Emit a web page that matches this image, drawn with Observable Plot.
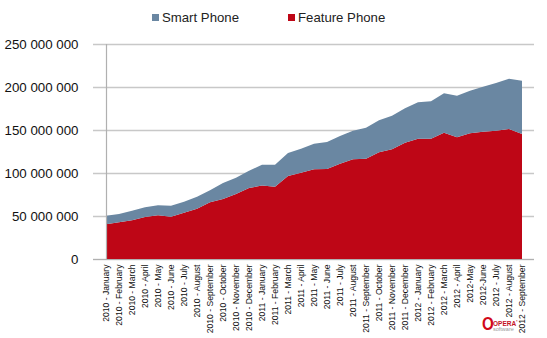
<!DOCTYPE html>
<html>
<head>
<meta charset="utf-8">
<script src="https://cdn.jsdelivr.net/npm/d3@7"></script>
<script src="https://cdn.jsdelivr.net/npm/@observablehq/plot@0.6"></script>
<style>
  html, body { margin: 0; padding: 0; background: #fff; }
  body { width: 547px; height: 338px; position: relative; overflow: hidden; font-family: "Liberation Sans", Arial, sans-serif; }
  #legend { position: absolute; left: 0; top: 10px; width: 547px; height: 18px; font-size: 13.2px; color: #222; }
  .item { position: absolute; top: 0; white-space: nowrap; }
  .sw { display: inline-block; width: 7px; height: 7px; margin-right: 3px; vertical-align: 1px; }
  #logo { position: absolute; left: 482px; top: 314px; width: 50px; height: 22px; font-family: "Liberation Sans", Arial, sans-serif; }
  #logo .o { position: absolute; left: 0; top: 0; font-size: 19px; font-weight: bold; color: #d1081a; line-height: 19px; transform: scaleX(0.8); transform-origin: left; }
  #logo .w { position: absolute; left: 11px; top: 5px; font-size: 6.5px; font-weight: bold; color: #c4121f; line-height: 7px; }
  #logo .s { position: absolute; left: 11px; top: 12px; font-size: 5.5px; color: #999; line-height: 6px; }
</style>
</head>
<body>
<div id="chart"></div>
<div id="legend"></div>
<div id="logo"><span class="o">O</span><span class="w">OPERA<sup style="font-size:3px">*</sup></span><span class="s">software</span></div>
<script>
const months = [
  "2010 - January", "2010 - February", "2010 - March", "2010 - April", "2010 - May", "2010 - June",
  "2010 - July", "2010 - August", "2010 - September", "2010 - October", "2010 - November", "2010 - December",
  "2011 - January", "2011 - February", "2011 - March", "2011 - April", "2011 - May", "2011 - June",
  "2011 - July", "2011 - August", "2011 - September", "2011 - October", "2011 - November", "2011 - December",
  "2012 - January", "2012 - February", "2012 - March", "2012 - April", "2012-May", "2012-June",
  "2012 - July", "2012 - August", "2012 - September"
];
const featurePhone = [
  40300000, 42600000, 45000000, 48800000, 50800000, 49200000,
  53900000, 58500000, 65900000, 69800000, 75500000, 82500000,
  85500000, 84100000, 96500000, 100400000, 104300000, 104700000,
  110800000, 115900000, 116700000, 124000000, 127500000, 135300000,
  139900000, 139900000, 146900000, 141500000, 146100000, 148100000,
  149200000, 151200000, 145300000
];
const smartPhone = [
  10100000, 9700000, 11200000, 11300000, 11600000, 12600000,
  12800000, 14000000, 13900000, 18700000, 19000000, 20200000,
  24000000, 25400000, 26800000, 27700000, 29800000, 31300000,
  32200000, 33300000, 36000000, 37200000, 39200000, 39900000,
  42300000, 43400000, 45700000, 48400000, 49600000, 52300000,
  55500000, 58500000, 62100000
];
const seriesNames = ["Smart Phone", "Feature Phone"];
const seriesColors = ["#6a87a2", "#be0616"];
const yTicks = [0, 50000000, 100000000, 150000000, 200000000, 250000000];

const rows = [];
months.forEach((m, i) => {
  rows.push({month: m, series: "Feature Phone", value: featurePhone[i]});
  rows.push({month: m, series: "Smart Phone", value: smartPhone[i]});
});

const fmt = d => d3.format(",")(d).replace(/,/g, " ");

const chart = Plot.plot({
  width: 547,
  height: 338,
  marginLeft: 93,
  marginRight: 13,
  marginTop: 44,
  marginBottom: 79,
  style: {fontFamily: "Liberation Sans, Arial, sans-serif", background: "#fff", color: "#111"},
  x: {type: "point", domain: months, padding: 0},
  y: {domain: [0, 250000000]},
  color: {domain: seriesNames, range: seriesColors},
  marks: [
    Plot.gridY(yTicks, {stroke: "#c8c8c8", strokeOpacity: 1, strokeWidth: 1.5}),
    Plot.areaY(rows, {x: "month", y: "value", fill: "series", z: "series", order: ["Feature Phone", "Smart Phone"]}),
    Plot.ruleY([0], {stroke: "#b0b0b0", strokeWidth: 1.2}),
    Plot.ruleX([months[0]], {stroke: "#b0b0b0", strokeWidth: 1.2}),
    Plot.axisY(yTicks, {tickSize: 0, tickPadding: 15, tickFormat: fmt, fontSize: 13.3, label: null, fill: "#111"}),
    Plot.axisX({tickSize: 0, tickPadding: 5, tickRotate: -90, fontSize: 8.6, label: null, fill: "#111"})
  ]
});
document.getElementById("chart").appendChild(chart);

const legend = document.getElementById("legend");
const legendX = [152, 288];
seriesNames.forEach((name, i) => {
  const it = document.createElement("div");
  it.className = "item";
  it.style.left = legendX[i] + "px";
  const sw = document.createElement("span");
  sw.className = "sw";
  sw.style.background = seriesColors[i];
  it.appendChild(sw);
  it.appendChild(document.createTextNode(name));
  legend.appendChild(it);
});
</script>
</body>
</html>
